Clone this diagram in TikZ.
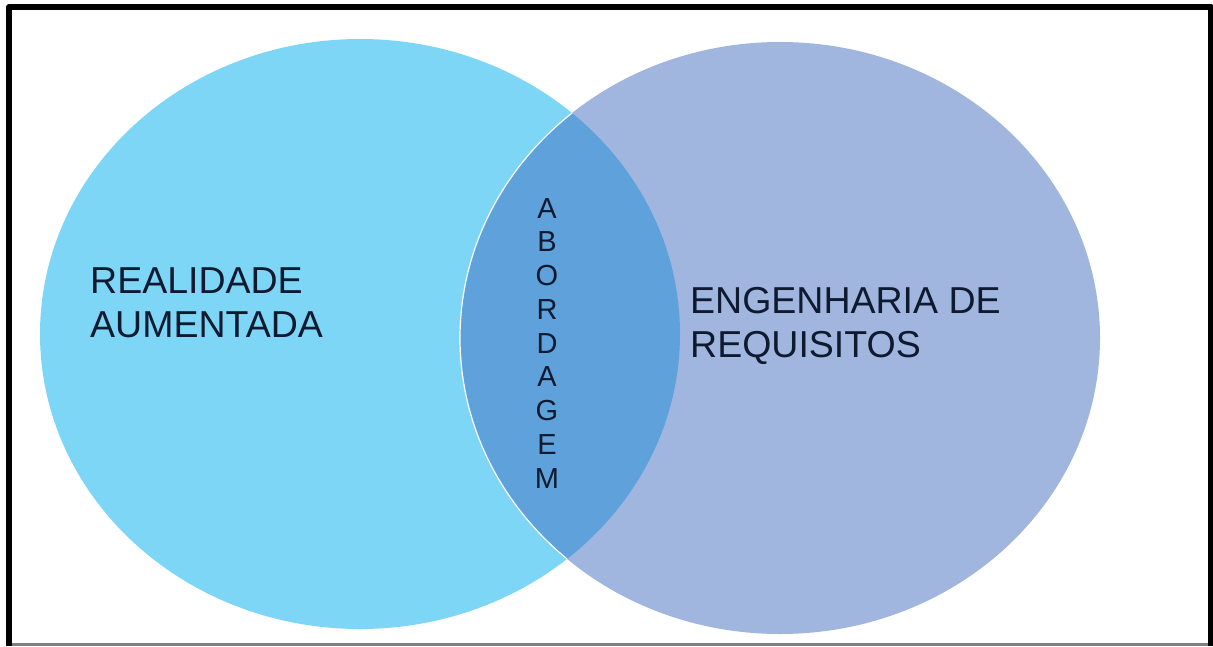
\documentclass[tikz,border=0pt]{standalone}
\usepackage{fontspec}
\setmainfont{Liberation Sans}
\definecolor{raBlue}{HTML}{7ED6F6}
\definecolor{erBlue}{HTML}{A1B6DF}
\definecolor{abBlue}{HTML}{5FA1DB}
\definecolor{txtNavy}{HTML}{0E1A30}
\begin{document}
\begin{tikzpicture}[x=1pt,y=-1pt,line join=round,line cap=round,
	bigtext/.style={font=\fontsize{37.5}{44}\selectfont,text=txtNavy,align=left,anchor=north west,inner sep=0pt},
	lettertext/.style={font=\fontsize{29}{33}\selectfont,text=txtNavy,anchor=base,inner sep=0pt},
	leftset/.style={x radius=320pt,y radius=295pt},
	rightset/.style={x radius=320pt,y radius=296pt}]
	\useasboundingbox (0,0) rectangle (1213,646);
	\coordinate (L) at (360,334);
	\coordinate (R) at (780,338);
	\fill[raBlue] (L) ellipse [leftset];
	\fill[erBlue] (R) ellipse [rightset];
	\begin{scope}
		\clip (L) ellipse [leftset];
		\fill[abBlue] (R) ellipse [rightset];
		\draw[white,line width=1.2pt] (R) ellipse [rightset];
	\end{scope}
	% frame
	\coordinate (F1) at (9,646);
	\coordinate (F2) at (9,7);
	\coordinate (F3) at (1210.5,7);
	\coordinate (F4) at (1210.5,646);
	\draw[line width=6pt,line cap=butt] (F1)--(F2)--(F3)--(F4);
	\draw[gray,line width=3pt,line cap=butt] (12,644.5)--(1208,644.5);
	% texts
	\node[bigtext] (ra) at (90,267.5) {REALIDADE\\AUMENTADA};
	\node[bigtext] (er) at (690,287.5) {ENGENHARIA DE\\REQUISITOS};
	\foreach \l [count=\i] in {A,B,O,R,D,A,G,E,M}
	\node[lettertext] (ab\i) at (547,{218+(\i-1)*33.75}) {\l};
\end{tikzpicture}
\end{document}
